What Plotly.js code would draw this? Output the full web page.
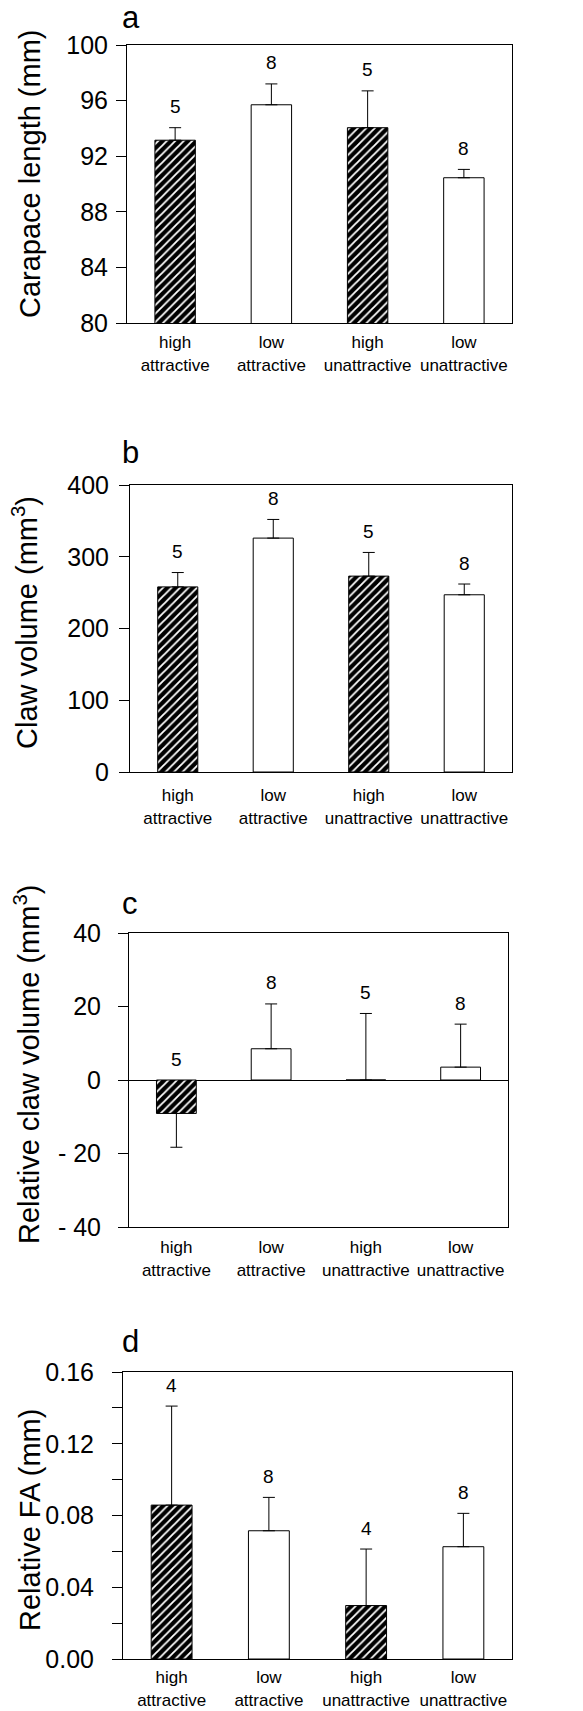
<!DOCTYPE html>
<html>
<head>
<meta charset="utf-8">
<script src="https://cdn.plot.ly/plotly-3.0.1.min.js"></script>
<style>html,body{margin:0;padding:0;background:#fff;}</style>
</head>
<body>
<div id="chart" style="width:583px;height:1711px;"></div>
<script>
// ---- data ----
const categories = ['high<br>attractive', 'low<br>attractive', 'high<br>unattractive', 'low<br>unattractive'];
const hatched = [true, false, true, false];

const carapaceMean = [93.15, 95.7, 94.05, 90.45];
const carapaceErr  = [0.9, 1.5, 2.65, 0.6];
const carapaceN    = [5, 8, 5, 8];

const clawMean = [258, 326, 273, 247];
const clawErr  = [20, 26, 33, 15];
const clawN    = [5, 8, 5, 8];

const relClawMean    = [-9.1, 8.5, 0, 3.5];
const relClawErrUp   = [0, 12.2, 18.1, 11.7];
const relClawErrDown = [9.2, 0, 0, 0];
const relClawN       = [5, 8, 5, 8];

const faMean = [0.0858, 0.0715, 0.0298, 0.0626];
const faErr  = [0.0552, 0.0186, 0.0315, 0.0186];
const faN    = [4, 8, 4, 8];

const ticksA = [80, 84, 88, 92, 96, 100];
const ticksB = [0, 100, 200, 300, 400];
const ticksC = [-40, -20, 0, 20, 40];
const tickTextC = ['- 40', '- 20', '0', '20', '40'];
const ticksD = [0, 0.04, 0.08, 0.12, 0.16];
const tickTextD = ['0.00', '0.04', '0.08', '0.12', '0.16'];

// ---- layout helpers ----
const W = 583, H = 1711;
const FONT = 'Liberation Sans, Arial, Helvetica, sans-serif';
function xd(a, b) { return [a / W, b / W]; }
function yd(top, bottom) { return [1 - bottom / H, 1 - top / H]; }

function barTrace(mean, up, down, xa, ya) {
  return {
    type: 'bar', x: categories, y: mean, xaxis: xa, yaxis: ya, width: 0.42,
    marker: {
      color: hatched.map(h => h ? 'black' : 'white'),
      line: {color: 'black', width: 1},
      pattern: {
        shape: hatched.map(h => h ? '/' : ''),
        fgcolor: 'white', fgopacity: 1,
        size: 6, solidity: 0.3, fillmode: 'overlay'
      }
    },
    error_y: {
      type: 'data', symmetric: false, array: up, arrayminus: down,
      color: 'black', thickness: 1, width: 6
    },
    hoverinfo: 'skip', showlegend: false
  };
}

const zeros = [0, 0, 0, 0];
const traces = [
  barTrace(carapaceMean, carapaceErr, zeros, 'x', 'y'),
  barTrace(clawMean, clawErr, zeros, 'x2', 'y2'),
  barTrace(relClawMean, relClawErrUp, relClawErrDown, 'x3', 'y3'),
  barTrace(faMean, faErr, zeros, 'x4', 'y4')
];

function xAxis(dom, anchor, standoff) {
  return {
    domain: dom, anchor: anchor, type: 'category', range: [-0.5, 3.5],
    showline: true, linecolor: 'black', linewidth: 1, mirror: true,
    ticks: '', showgrid: false, zeroline: false,
    tickfont: {family: FONT, size: 17, color: 'black'},
    ticklabelstandoff: standoff, fixedrange: true
  };
}
function yAxis(dom, anchor, range, vals, text, standoff) {
  const ax = {
    domain: dom, anchor: anchor, range: range,
    tickmode: 'array', tickvals: vals,
    showline: true, linecolor: 'black', linewidth: 1, mirror: true,
    ticks: 'outside', ticklen: 10, tickwidth: 1, tickcolor: 'black',
    showgrid: false, zeroline: false,
    tickfont: {family: FONT, size: 25, color: 'black'},
    ticklabelstandoff: standoff, fixedrange: true
  };
  if (text) ax.ticktext = text;
  return ax;
}

const layout = {
  width: W, height: H,
  margin: {l: 0, r: 0, t: 0, b: 0},
  paper_bgcolor: 'white', plot_bgcolor: 'white',
  font: {family: FONT, color: 'black'},
  showlegend: false,
  xaxis:  xAxis(xd(127, 512), 'y', 4),
  yaxis:  yAxis(yd(45, 323), 'x', [80, 100], ticksA, null, 3),
  xaxis2: xAxis(xd(130, 512), 'y2', 8),
  yaxis2: yAxis(yd(485, 772), 'x2', [0, 400], ticksB, null, 5),
  xaxis3: xAxis(xd(129, 508), 'y3', 5),
  yaxis3: yAxis(yd(933, 1227), 'x3', [-40, 40], ticksC, tickTextC, 12),
  xaxis4: xAxis(xd(123, 512), 'y4', 3),
  yaxis4: yAxis(yd(1372, 1659), 'x4', [0, 0.16], ticksD, tickTextD, 13),
  annotations: []
};
layout.yaxis3.zeroline = true;
layout.yaxis3.zerolinecolor = 'black';
layout.yaxis3.zerolinewidth = 1;
layout.yaxis4.minor = {dtick: 0.02, tick0: 0, ticks: 'outside', ticklen: 10, tickwidth: 1, tickcolor: 'black'};

// n labels above error bars
function nLabels(mean, up, n, xa, ya) {
  categories.forEach((c, i) => {
    const top = Math.max(mean[i], 0) + up[i];
    layout.annotations.push({
      x: c, y: top, xref: xa, yref: ya, text: String(n[i]),
      showarrow: false, yanchor: 'middle', yshift: 21,
      font: {family: FONT, size: 19, color: 'black'}
    });
  });
}
nLabels(carapaceMean, carapaceErr, carapaceN, 'x', 'y');
nLabels(clawMean, clawErr, clawN, 'x2', 'y2');
nLabels(relClawMean, relClawErrUp, relClawN, 'x3', 'y3');
nLabels(faMean, faErr, faN, 'x4', 'y4');

// panel letters and y titles
const panelLetters = ['a', 'b', 'c', 'd'];
const yTitles = ['Carapace length (mm)', 'Claw volume (mm<sup>3</sup>)',
                 'Relative claw volume (mm<sup>3</sup>)', 'Relative FA (mm)'];
const letterPos = [[131, 18], [130, 453], [130, 903], [130, 1341]];
const titlePos = [[30, 174], [25, 623], [27, 1065], [30, 1520]];
panelLetters.forEach((t, i) => {
  layout.annotations.push({
    x: letterPos[i][0] / W, y: 1 - letterPos[i][1] / H, xref: 'paper', yref: 'paper',
    text: t, showarrow: false, xanchor: 'center', yanchor: 'middle',
    font: {family: FONT, size: 31, color: 'black'}
  });
});
yTitles.forEach((t, i) => {
  layout.annotations.push({
    x: titlePos[i][0] / W, y: 1 - titlePos[i][1] / H, xref: 'paper', yref: 'paper',
    text: t, showarrow: false, textangle: -90, xanchor: 'center', yanchor: 'middle',
    font: {family: FONT, size: 29, color: 'black'}
  });
});

Plotly.newPlot('chart', traces, layout, {staticPlot: true, displayModeBar: false});
</script>
</body>
</html>
